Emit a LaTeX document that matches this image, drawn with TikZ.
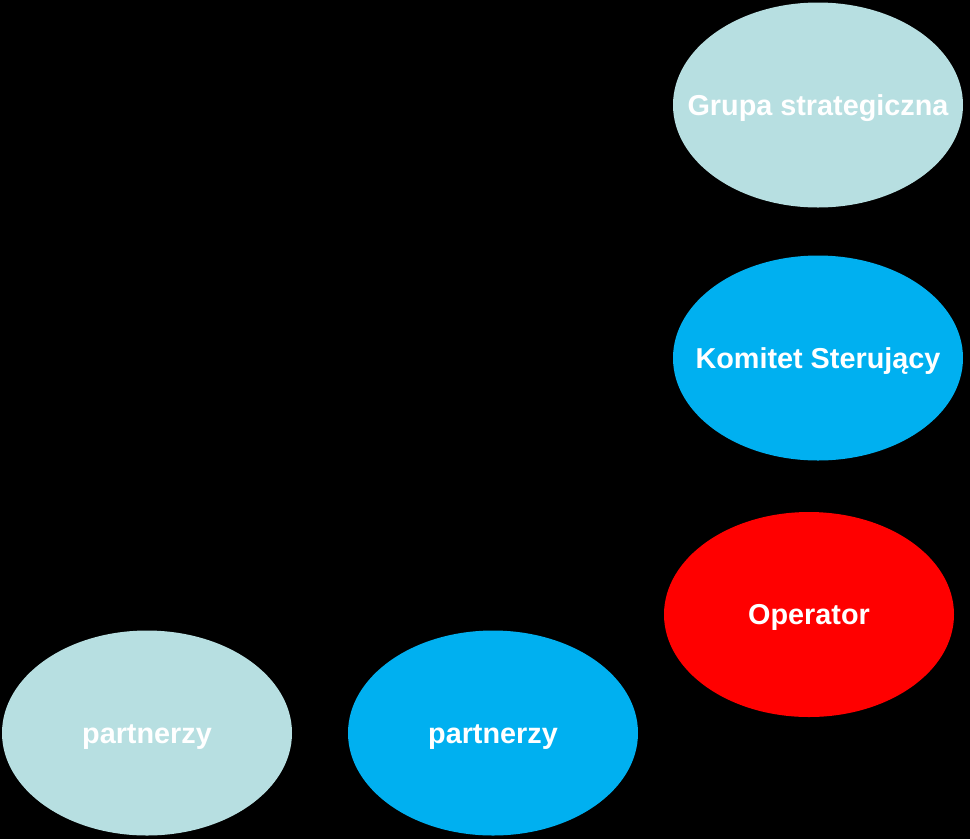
\documentclass[tikz,border=0pt]{standalone}
\usepackage{fontspec}
\setmainfont{Liberation Sans}
\usetikzlibrary{shapes.geometric}
\definecolor{lightc}{HTML}{B7DFE1}
\definecolor{bluec}{HTML}{00B0F0}
\definecolor{redc}{HTML}{FF0000}
\tikzset{
  ell/.style={ellipse, minimum width=290pt, minimum height=205pt, inner sep=0pt, draw=none},
  lbl/.style={text=white, font=\fontsize{28.8pt}{34pt}\selectfont\bfseries, inner sep=0pt, anchor=base}
}
\begin{document}
\begin{tikzpicture}[x=1pt,y=-1pt]
\fill[black] (0,0) rectangle (970,839);
\useasboundingbox (0,0) rectangle (970,839);
\node[ell, fill=lightc] (gs) at (818,105) {};
\node[ell, fill=bluec] (ks) at (818,358) {};
\node[ell, fill=redc] (op) at (809,614.5) {};
\node[ell, fill=lightc] (p1) at (147,733) {};
\node[ell, fill=bluec] (p2) at (493,733) {};
\node[lbl] (gst) at ([yshift=-10pt]gs.center) {Grupa strategiczna};
\node[lbl] (kst) at ([yshift=-10pt]ks.center) {Komitet Sterujący};
\node[lbl] (opt) at ([yshift=-10pt]op.center) {Operator};
\node[lbl] (p1t) at ([yshift=-10pt]p1.center) {partnerzy};
\node[lbl] (p2t) at ([yshift=-10pt]p2.center) {partnerzy};
\end{tikzpicture}
\end{document}
